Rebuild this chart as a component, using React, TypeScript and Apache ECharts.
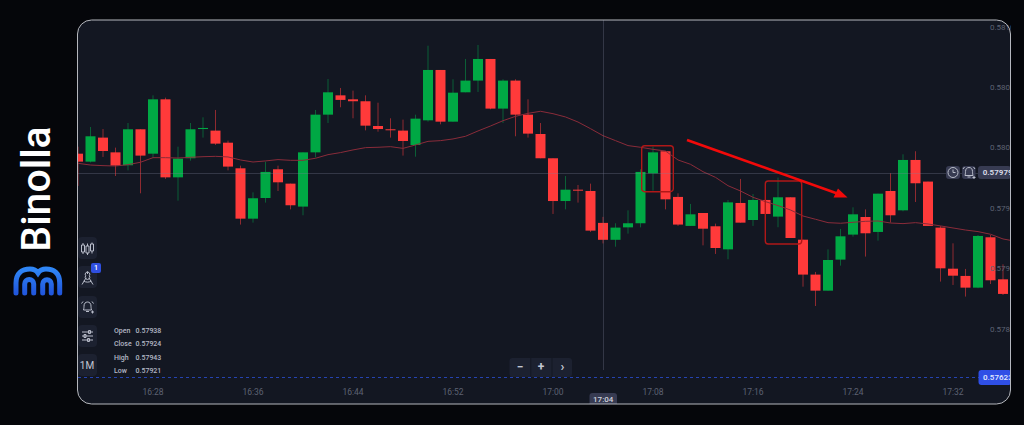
import React, { useEffect, useRef } from "react";
import * as echarts from "echarts";

// first candle is 16:22, one candle per minute
const startMinute = 982;
const opens = [
  0.579953, 0.579887, 0.580086, 0.579964, 0.579857, 0.580155, 0.579953, 0.580403, 0.579757, 0.579915,
  0.580157, 0.580144, 0.580044, 0.579832, 0.579415, 0.579586, 0.579824, 0.579705, 0.579515, 0.579964,
  0.580276, 0.580436, 0.580403, 0.580387, 0.580182, 0.580155, 0.580144, 0.580025, 0.580229, 0.580646,
  0.580218, 0.580461, 0.580558, 0.580737, 0.580326, 0.580558, 0.580276, 0.580116, 0.579915, 0.579561,
  0.579655, 0.579644, 0.57938, 0.57924, 0.579343, 0.579377, 0.57979, 0.579973, 0.579595, 0.579355,
  0.579462, 0.579352, 0.579161, 0.579545, 0.579404, 0.57957, 0.579432, 0.579592, 0.579241, 0.578952,
  0.578819, 0.579076, 0.579283, 0.579429, 0.579305, 0.579644, 0.579484, 0.579901, 0.579722, 0.579341,
  0.579001, 0.578941, 0.578844, 0.579261, 0.578913, 0.578792,
];
const closes = [
  0.579887, 0.580097, 0.579975, 0.579854, 0.580155, 0.579937, 0.580403, 0.579757, 0.579912, 0.580155,
  0.580166, 0.580036, 0.579846, 0.579415, 0.579584, 0.579802, 0.579716, 0.579526, 0.579964, 0.580276,
  0.580461, 0.580398, 0.580387, 0.580185, 0.580157, 0.580149, 0.580058, 0.580243, 0.580646, 0.580218,
  0.580458, 0.580558, 0.580737, 0.580326, 0.580558, 0.580276, 0.580119, 0.579915, 0.579561, 0.579655,
  0.57965, 0.579316, 0.57924, 0.579341, 0.579377, 0.579802, 0.579964, 0.579575, 0.579366, 0.579451,
  0.579332, 0.579172, 0.57955, 0.579382, 0.57957, 0.579454, 0.579592, 0.579255, 0.578952, 0.578819,
  0.579073, 0.579269, 0.579451, 0.579294, 0.579622, 0.579443, 0.579901, 0.579708, 0.579355, 0.579004,
  0.578943, 0.578844, 0.579272, 0.578905, 0.578792, 0.57899,
];
const highs = [
  0.580011, 0.580174, 0.580157, 0.580003, 0.580207, 0.580155, 0.580436, 0.580417, 0.580011, 0.580207,
  0.580254, 0.580315, 0.580061, 0.579854, 0.579633, 0.579887, 0.579854, 0.579705, 0.579964, 0.580315,
  0.580571, 0.580497, 0.580475, 0.580436, 0.580375, 0.580246, 0.580235, 0.580276, 0.580847, 0.580646,
  0.580569, 0.580737, 0.580853, 0.580737, 0.580569, 0.580569, 0.580403, 0.580207, 0.579915, 0.579768,
  0.579694, 0.579705, 0.57943, 0.579377, 0.579484, 0.579824, 0.580011, 0.579973, 0.579625, 0.579537,
  0.579462, 0.579374, 0.57957, 0.579744, 0.579619, 0.57957, 0.579755, 0.579592, 0.579241, 0.578974,
  0.579161, 0.57933, 0.579509, 0.579492, 0.579622, 0.579791, 0.579948, 0.579973, 0.579722, 0.579355,
  0.579211, 0.578999, 0.57928, 0.57928, 0.579037, 0.57905,
];
const lows = [
  0.579686, 0.57988, 0.579926, 0.579768, 0.579815, 0.579625, 0.57992, 0.579744, 0.579564, 0.579895,
  0.580086, 0.580025, 0.579815, 0.579366, 0.579382, 0.579548, 0.579644, 0.579492, 0.579443, 0.579923,
  0.580207, 0.580337, 0.580246, 0.580146, 0.580135, 0.580086, 0.579937, 0.579928, 0.580218, 0.580196,
  0.580218, 0.580461, 0.580464, 0.58032, 0.580207, 0.580097, 0.580086, 0.579915, 0.579454, 0.579492,
  0.579548, 0.579305, 0.57921, 0.579183, 0.579291, 0.579343, 0.579647, 0.579492, 0.579355, 0.579355,
  0.579194, 0.579123, 0.579079, 0.579382, 0.579355, 0.57928, 0.579344, 0.579255, 0.578852, 0.578692,
  0.578819, 0.579026, 0.579266, 0.579101, 0.579233, 0.579382, 0.579476, 0.579553, 0.579355, 0.578894,
  0.578866, 0.57877, 0.578839, 0.578874, 0.578783, 0.57877,
];
const maValues = [
  0.579873, 0.579859, 0.579854, 0.579851, 0.579862, 0.579882, 0.57992, 0.57992, 0.579917, 0.579923,
  0.579928, 0.579931, 0.579926, 0.579901, 0.579884, 0.579893, 0.579904, 0.579898, 0.579898, 0.579915,
  0.579945, 0.579962, 0.579984, 0.580003, 0.580006, 0.580011, 0.579997, 0.580025, 0.580055, 0.580061,
  0.580075, 0.580097, 0.580141, 0.580182, 0.580226, 0.580262, 0.580287, 0.580304, 0.580284, 0.580257,
  0.580215, 0.58016, 0.580102, 0.580061, 0.58002, 0.580006, 0.579989, 0.579975, 0.579901, 0.579865,
  0.579804, 0.579757, 0.579688, 0.579644, 0.579592, 0.579556, 0.579523, 0.579487, 0.579437, 0.57941,
  0.579382, 0.579377, 0.579385, 0.579393, 0.579396, 0.579379, 0.579374, 0.579382, 0.579371, 0.579355,
  0.579338, 0.579321, 0.579308, 0.579286, 0.579247, 0.579228,
];

const yTicks = [0.5785, 0.579, 0.5795, 0.58, 0.5805, 0.581];
const xTickLabels = ["16:28", "16:36", "16:44", "16:52", "17:00", "17:08", "17:16", "17:24", "17:32"];
const ohlcNames = ["Open", "Close", "High", "Low"];
const ohlcValues = ["0.57938", "0.57924", "0.57943", "0.57921"];

const crosshairTime = "17:04";
const crosshairPrice = 0.57979;
const lastPrice = "0.57623";
const lastPriceLevel = 0.5781;

const BG = "#05060a";
const PANEL = "#131722";
const BUTTON = "#1c2130";
const TAG = "#373b52";
const UP = "#00a844";
const DOWN = "#ff3a3a";
const UP_WICK = "#0b5f36";
const DOWN_WICK = "#8f2a30";
const FONT = "Roboto, Inter, sans-serif";

const toMinute = (label: string): number => {
  const [h, m] = label.split(":").map(Number);
  return h * 60 + m;
};

const minuteLabel = (v: number): string => {
  const h = Math.floor(v / 60);
  const m = Math.round(v - h * 60);
  return `${h}:${String(m).padStart(2, "0")}`;
};

echarts.graphic.registerShape(
  "binollaLogo",
  echarts.graphic.extendPath(
    "M16 293 V283 C16 273 22 269 30 269 C33 269 36 270 38 273 C40 270 43 269 46 269 C54 269 59.7 273 59.7 283 V293 M24.7 293 V284 A4.5 4.5 0 0 1 33.7 284 V293 M42.7 293 V284 A4.3 4.3 0 0 1 51.3 284 V293",
    {}
  )
);
echarts.graphic.registerShape(
  "candlesIcon",
  echarts.graphic.extendPath(
    "M1 3 H4 V10 H1 Z M2.5 1 V3 M2.5 10 V12 M5.5 4 H8.5 V11 H5.5 Z M7 1.5 V4 M7 11 V13 M10 2 H13 V9 H10 Z M11.5 0.5 V2 M11.5 9 V11.5",
    {}
  )
);
echarts.graphic.registerShape(
  "compassIcon",
  echarts.graphic.extendPath(
    "M7 0.5 V3 M5.2 4.7 A2.3 2.3 0 1 1 8.8 4.7 A2.3 2.3 0 1 1 5.2 4.7 M5.6 6.8 L1.5 13.5 M8.4 6.8 L12.5 13.5 M3.2 10 C5.5 11.5 8.5 11.5 10.8 10",
    {}
  )
);
echarts.graphic.registerShape(
  "bellIcon",
  echarts.graphic.extendPath(
    "M3 10 C3.5 8 3.5 7 3.5 6 C3.5 3.5 5 2 7 2 C9 2 10.5 3.5 10.5 6 C10.5 7 10.5 8 11 10 Z M5.5 11.5 H8.5 M1 3.5 L2.5 1.5 M13 3.5 L11.5 1.5 M10.5 12 H13.5 M12 10.5 V13.5",
    {}
  )
);
echarts.graphic.registerShape(
  "slidersIcon",
  echarts.graphic.extendPath(
    "M0.5 2 H11.5 M0.5 6 H11.5 M0.5 10 H11.5 M7 0.5 H9 V3.5 H7 Z M2.5 4.5 H4.5 V7.5 H2.5 Z M6 8.5 H8 V11.5 H6 Z",
    {}
  )
);
echarts.graphic.registerShape(
  "clockIcon",
  echarts.graphic.extendPath(
    "M1 6 A5 5 0 1 1 11 6 A5 5 0 1 1 1 6 M6 3 V6 H8.5",
    {}
  )
);

const text = (
  x: number,
  y: number,
  value: string,
  fill: string,
  fontSize: number,
  fontWeight: number = 400,
  textAlign: string = "left"
) => ({
  type: "text",
  x,
  y,
  z: 60,
  style: {
    text: value,
    fill,
    fontSize,
    fontWeight,
    fontFamily: FONT,
    textAlign,
    textVerticalAlign: "middle",
  },
});

const box = (x: number, y: number, width: number, height: number, fill: string, r: any = 4, z: number = 50) => ({
  type: "rect",
  z,
  shape: { x, y, width, height, r },
  style: { fill },
});

const icon = (type: string, x: number, y: number, stroke: string = "#b9bdca", lineWidth: number = 1) => ({
  type,
  x,
  y,
  z: 60,
  style: { fill: "none", stroke, lineWidth },
});

const App: React.FC = () => {
  const chartRef = useRef<HTMLDivElement>(null);

  useEffect(() => {
    const chartDom = chartRef.current;
    if (!chartDom) return;

    const myChart = echarts.init(chartDom, undefined, { renderer: "svg" });

    const rows = opens.map((open, i) => [startMinute + i, open, closes[i], lows[i], highs[i]]);

    const renderCandle = (params: any, api: any) => {
      const open = api.value(1);
      const close = api.value(2);
      const x = api.coord([api.value(0), open])[0];
      const bodyTop = api.coord([api.value(0), Math.max(open, close)])[1];
      const bodyBottom = api.coord([api.value(0), Math.min(open, close)])[1];
      const low = api.coord([api.value(0), api.value(3)])[1];
      const high = api.coord([api.value(0), api.value(4)])[1];
      const isUp = close >= open;
      return {
        type: "group",
        children: [
          {
            type: "line",
            shape: { x1: x, y1: high, x2: x, y2: low },
            style: { stroke: isUp ? UP_WICK : DOWN_WICK, lineWidth: 1 },
          },
          {
            type: "rect",
            shape: { x: x - 5, y: bodyTop, width: 10, height: Math.max(bodyBottom - bodyTop, 1) },
            style: { fill: isUp ? UP : DOWN },
          },
        ],
      };
    };

    const graphics: any[] = [
      // chart panel
      box(77.5, 20, 933, 384, PANEL, 14, -10),

      // logo
      {
        type: "binollaLogo",
        z: 60,
        style: {
          fill: "none",
          lineWidth: 5,
          lineCap: "round",
          stroke: new echarts.graphic.LinearGradient(0, 0, 0, 1, [
            { offset: 0, color: "#2f86f6" },
            { offset: 1, color: "#2157dd" },
          ]),
        },
      },
      {
        type: "text",
        x: 36,
        y: 189,
        z: 60,
        rotation: Math.PI / 2,
        style: {
          text: "Binolla",
          fill: "#ffffff",
          fontSize: 41,
          fontWeight: 500,
          fontFamily: "Roboto, sans-serif",
          textAlign: "center",
          textVerticalAlign: "middle",
        },
      },

      // left toolbar
      box(78, 237, 19, 22, BUTTON),
      box(78, 266, 19, 22, BUTTON),
      box(78, 296, 19, 22, BUTTON),
      box(78, 325, 19, 22, BUTTON),
      box(78, 354, 19, 22, BUTTON),
      icon("candlesIcon", 80.5, 242),
      icon("compassIcon", 80.5, 271),
      icon("bellIcon", 80.5, 300),
      icon("slidersIcon", 81.5, 330),
      text(87, 365.5, "1M", "#c3c7d3", 10, 400, "center"),
      box(91, 263, 10, 10, "#2f4fe0", 2, 55),
      text(96, 268.2, "1", "#ffffff", 7, 600, "center"),

      // ohlc readout
      ...ohlcNames.map((name, i) => text(114, 331 + i * 13.3, name, "#b4b8c5", 7, 500)),
      ...ohlcValues.map((value, i) => text(135.5, 331 + i * 13.3, value, "#b4b8c5", 7, 500)),

      // zoom controls
      box(509.5, 358, 62.5, 19, BUTTON, 3),
      box(530.4, 358, 0.8, 19, PANEL, 0, 55),
      box(551.6, 358, 0.8, 19, PANEL, 0, 55),
      text(520, 367, "−", "#c3c7d3", 12, 700, "center"),
      text(541, 367, "+", "#c3c7d3", 12, 700, "center"),
      text(562.5, 366.5, "›", "#c3c7d3", 13, 700, "center"),

      // crosshair tags
      box(589.5, 393, 27.5, 11, TAG, [3, 3, 0, 0]),
      text(603.2, 399, crosshairTime, "#d0d3de", 8, 500, "center"),
      box(946, 166, 14, 13, TAG, 3),
      box(962, 166, 13.5, 13, TAG, 3),
      box(978, 166, 33, 13, TAG, 3),
      icon("clockIcon", 947, 166.5, "#b9bdca", 1),
      icon("bellIcon", 962, 165.5, "#b9bdca", 1),
      text(982.7, 172.7, crosshairPrice.toFixed(5), "#d5d8e4", 8, 700),
      box(978.5, 370, 33, 15, "#2f4fe6", 3),
      text(983, 377.7, lastPrice, "#dfe4ff", 8, 600),

      // annotations drawn on the screenshot
      {
        type: "rect",
        z: 40,
        shape: { x: 641.7, y: 145.7, width: 31.6, height: 46, r: 3 },
        style: { fill: "none", stroke: "#b01818", lineWidth: 1.4 },
      },
      {
        type: "rect",
        z: 40,
        shape: { x: 765.3, y: 181, width: 36.4, height: 63, r: 3 },
        style: { fill: "none", stroke: "#b01818", lineWidth: 1.4 },
      },
      {
        type: "line",
        z: 41,
        shape: { x1: 687, y1: 140, x2: 838, y2: 193.8 },
        style: { stroke: "#f20a0a", lineWidth: 2.6 },
      },
      {
        type: "polygon",
        z: 41,
        shape: { points: [[847.5, 197.5], [838, 188.5], [833.5, 197.5]] },
        style: { fill: "#f20a0a" },
      },

      // page colour over the clipped side of the price labels, then the frame
      box(1011, 0, 13, 425, BG, 0, 70),
      {
        type: "rect",
        z: 80,
        shape: { x: 77.5, y: 20, width: 933, height: 384, r: 14 },
        style: { fill: "none", stroke: "#b5b7bd", lineWidth: 1 },
      },
    ];

    const option: any = {
      animation: false,
      backgroundColor: BG,
      grid: { left: 78, right: 14, top: 20, bottom: 21 },
      xAxis: {
        type: "value",
        min: startMinute,
        max: startMinute + 74.56,
        splitLine: { show: false },
        axisLine: { show: false },
        axisTick: { show: false },
        axisLabel: {
          inside: true,
          margin: 8,
          customValues: xTickLabels.map(toMinute),
          formatter: (v: number) => minuteLabel(v),
          color: "#5d6272",
          fontSize: 8.5,
          fontFamily: FONT,
        },
      },
      yAxis: {
        type: "value",
        position: "right",
        z: 10,
        min: 0.57788083,
        max: 0.58105958,
        splitLine: { show: false },
        axisLine: { show: false },
        axisTick: { show: false },
        axisLabel: {
          inside: true,
          margin: 20,
          align: "left",
          customValues: yTicks,
          formatter: (v: number) => v.toFixed(4),
          color: "#5d6272",
          fontSize: 8,
          fontFamily: FONT,
        },
      },
      graphic: { elements: graphics },
      series: [
        {
          name: "Price",
          type: "custom",
          clip: true,
          silent: true,
          renderItem: renderCandle,
          encode: { x: 0, y: [1, 2, 3, 4] },
          data: rows,
        },
        {
          name: "MA",
          type: "line",
          silent: true,
          symbol: "none",
          clip: true,
          lineStyle: { color: "#8a2c3a", width: 1 },
          data: maValues.map((v, i) => [startMinute + i, v]),
          markLine: {
            silent: true,
            symbol: "none",
            precision: 6,
            label: { show: false },
            data: [
              { yAxis: crosshairPrice, lineStyle: { color: "rgba(125,130,155,0.3)", width: 1, type: "solid" } },
              { yAxis: lastPriceLevel, lineStyle: { color: "#2543b0", width: 1, type: [3, 3] } },
              [
                {
                  coord: [toMinute(crosshairTime), 0.58105958],
                  lineStyle: { color: "rgba(125,130,155,0.3)", width: 1, type: "solid" },
                },
                { coord: [toMinute(crosshairTime), 0.578162] },
              ],
            ],
          },
        },
      ],
    };

    myChart.setOption(option);

    return () => {
      myChart.dispose();
    };
  }, []);

  return (
    <>
      <style>{`body{margin:0;background:${BG};}`}</style>
      <div ref={chartRef} style={{ width: 1024, height: 425 }} />
    </>
  );
};

export default App;
